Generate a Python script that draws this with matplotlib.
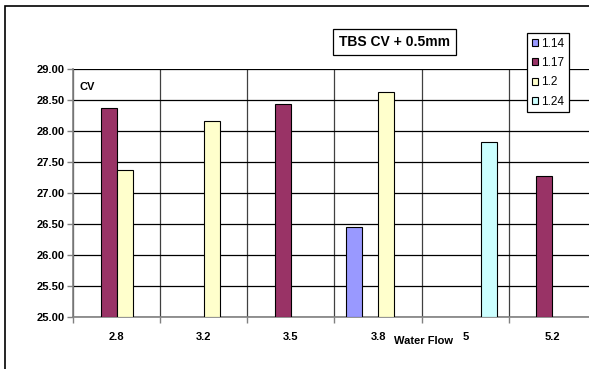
import numpy as np
import matplotlib.pyplot as plt
from matplotlib.patches import Rectangle

plt.rcParams['font.family'] = ['Liberation Sans', 'DejaVu Sans']

flows = ['2.8', '3.2', '3.5', '3.8', '5', '5.2']
series = ['1.14', '1.17', '1.2', '1.24']
nan = np.nan
cv_114 = [nan, nan, nan, 26.45, nan, nan]
cv_117 = [28.37, nan, 28.44, nan, nan, 27.27]
cv_120 = [27.37, 28.17, nan, 28.63, nan, nan]
cv_124 = [nan, nan, nan, nan, 27.82, nan]
colours = ['#9999FF', '#993366', '#FFFFCC', '#CCFFFF']

W, H = 589, 369
fig = plt.figure(figsize=(W / 100, H / 100), dpi=100)

# chart border, cut off at the right and bottom
fig.patches.append(Rectangle((5 / W, -0.2), 1.2, 1.2 - 6 / H,
                             transform=fig.transFigure, fill=False,
                             edgecolor='black', linewidth=1.2, zorder=0))

left, right, top, bottom = 73, 596, 69.3, 316.7
ax = fig.add_axes([left / W, 1 - bottom / H, (right - left) / W, (bottom - top) / H])

x = np.arange(len(flows))
w = 0.1835
for k, (vals, c, name) in enumerate(zip([cv_114, cv_117, cv_120, cv_124], colours, series)):
    ax.bar(x + (k - 1.5) * w, np.array(vals) - 25, w, bottom=25, color=c,
           edgecolor='black', linewidth=0.8, label=name, zorder=3)

ax.set_xlim(-0.5, len(flows) - 0.5)
ax.set_ylim(25, 29)
ax.set_yticks(np.arange(25, 29.01, 0.5))
ax.set_yticklabels([f'{v:.2f}' for v in np.arange(25, 29.01, 0.5)],
                   fontsize=8, fontweight='bold')
ax.set_xticks(x)
ax.set_xticklabels(flows, fontsize=8, fontweight='bold')
ax.set_xticks(np.arange(-0.5, len(flows)), minor=True)
ax.tick_params(axis='x', which='major', length=0, pad=11)
ax.tick_params(axis='x', which='minor', length=4, color='#808080', width=1)
ax.tick_params(axis='y', length=4, color='#808080', width=1, pad=2)

ax.grid(axis='y', which='major', color='black', linewidth=0.9, zorder=1)
ax.grid(axis='x', which='minor', color='#404040', linewidth=0.9, zorder=1)
ax.set_axisbelow(True)
for s in ['top', 'right']:
    ax.spines[s].set_visible(False)
for s in ['left', 'bottom']:
    ax.spines[s].set_color('#808080')
    ax.spines[s].set_linewidth(1.2)

ax.text(0.013, 0.95, 'CV', transform=ax.transAxes, fontsize=8,
        fontweight='bold', va='top', ha='left')
fig.text(423 / W, 1 - 341 / H, 'Water Flow', fontsize=8, fontweight='bold',
         ha='center', va='center')

fig.text(394.5 / W, 1 - 42 / H, 'TBS CV + 0.5mm', fontsize=10, fontweight='bold',
         ha='center', va='center',
         bbox=dict(boxstyle='square,pad=0.45', facecolor='white',
                   edgecolor='black', linewidth=0.9))

leg = ax.legend(loc='upper left', bbox_to_anchor=(527 / W, 1 - 33 / H),
                bbox_transform=fig.transFigure, fontsize=8.5, frameon=True,
                fancybox=False, edgecolor='black', framealpha=1,
                handlelength=0.55, handleheight=0.55, handletextpad=0.25,
                labelspacing=0.62, borderpad=0.4, borderaxespad=0)
leg.get_frame().set_linewidth(0.9)
leg.set_zorder(5)

fig.savefig('out.png', dpi=100)
